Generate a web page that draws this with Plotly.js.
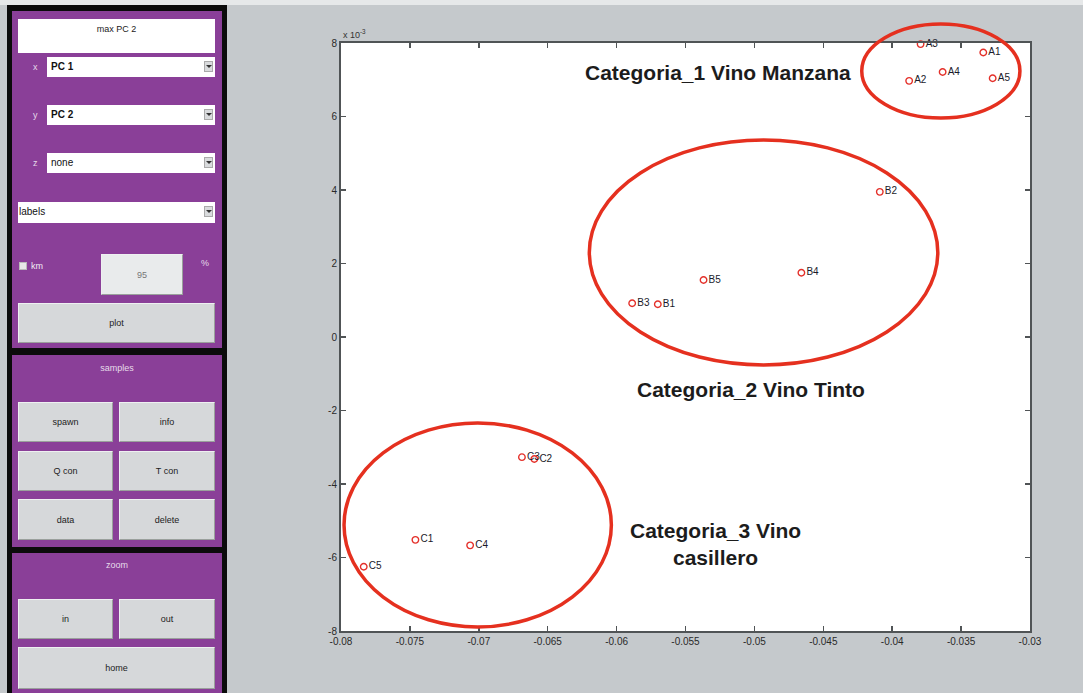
<!DOCTYPE html>
<html>
<head>
<meta charset="utf-8">
<script src="https://cdn.plot.ly/plotly-3.0.1.min.js"></script>
<style>
  html, body { margin: 0; padding: 0; background: #c5c9cc; }
  #wrap { position: relative; width: 1083px; height: 693px; overflow: hidden; background: #c5c9cc; }
  #chart { position: absolute; left: 0; top: 0; width: 1083px; height: 693px; }
  #topstrip { position: absolute; left: 0; top: 0; width: 1083px; height: 5px; background: #e6e8e9; }
  #panel { position: absolute; left: 0; top: 0; width: 230px; height: 693px; font-family: "Liberation Sans", Arial, sans-serif; }
  .blk { position: absolute; background: #0b0b0b; }
  .pur { position: absolute; background: #8a3f98; }
  .box { position: absolute; background: #ffffff; font-size: 9px; color: #222; box-sizing: border-box; }
  .btn { position: absolute; background: #d6d8da; border: 1px solid #eef0f1; border-bottom-color: #9aa09c; border-right-color: #9aa09c; box-sizing: border-box; font-size: 9px; color: #222; display: flex; align-items: center; justify-content: center; }
  .lbl { position: absolute; font-size: 9px; color: #e6dcea; }
  .dd  { position: absolute; background: #fff; box-sizing: border-box; font-size: 10px; color: #111; padding-left: 4px; line-height: 19px; font-weight: bold; }
  .arr { position: absolute; right: 2px; top: 4px; width: 9px; height: 11px; background: #d9dbdd; border: 1px solid #aaa; box-sizing: border-box; }
  .arr:after { content: ""; position: absolute; left: 1px; top: 3px; border-left: 3px solid transparent; border-right: 3px solid transparent; border-top: 3px solid #333; }
</style>
</head>
<body>
<div id="wrap">
  <div id="chart"></div>
  <div id="topstrip"></div>
  <div id="panel">
    <div class="blk" style="left:7px;top:5px;width:220px;height:688px"></div>

    <!-- controls panel -->
    <div class="pur" style="left:12px;top:11px;width:210px;height:337px"></div>
    <div class="box" style="left:18px;top:19px;width:197px;height:34px;text-align:center;padding-top:5px">max PC 2</div>
    <div class="lbl" style="left:33px;top:62px">x</div>
    <div class="dd" style="left:47px;top:57px;width:168px;height:20px">PC 1<div class="arr"></div></div>
    <div class="lbl" style="left:33px;top:110px">y</div>
    <div class="dd" style="left:47px;top:105px;width:168px;height:20px">PC 2<div class="arr"></div></div>
    <div class="lbl" style="left:33px;top:158px">z</div>
    <div class="dd" style="left:47px;top:153px;width:168px;height:20px;font-weight:normal">none<div class="arr"></div></div>
    <div class="dd" style="left:18px;top:202px;width:197px;height:21px;padding-left:1px;font-weight:normal">labels<div class="arr"></div></div>
    <div style="position:absolute;left:19px;top:262px;width:8px;height:8px;background:#e8e8e8;border:1px solid #bbb;box-sizing:border-box"></div>
    <div class="lbl" style="left:31px;top:261px;color:#f2eef4">km</div>
    <div class="btn" style="left:101px;top:254px;width:82px;height:41px;background:#e9ebec;color:#777">95</div>
    <div class="lbl" style="left:201px;top:258px">%</div>
    <div class="btn" style="left:18px;top:303px;width:197px;height:40px">plot</div>

    <!-- samples panel -->
    <div class="pur" style="left:12px;top:355px;width:210px;height:192px"></div>
    <div class="lbl" style="left:12px;width:210px;text-align:center;top:363px">samples</div>
    <div class="btn" style="left:18px;top:402px;width:95px;height:40px">spawn</div>
    <div class="btn" style="left:119px;top:402px;width:96px;height:40px">info</div>
    <div class="btn" style="left:18px;top:451px;width:95px;height:40px">Q con</div>
    <div class="btn" style="left:119px;top:451px;width:96px;height:40px">T con</div>
    <div class="btn" style="left:18px;top:499px;width:95px;height:41px">data</div>
    <div class="btn" style="left:119px;top:499px;width:96px;height:41px">delete</div>

    <!-- zoom panel -->
    <div class="pur" style="left:12px;top:553px;width:210px;height:140px"></div>
    <div class="lbl" style="left:12px;width:210px;text-align:center;top:560px">zoom</div>
    <div class="btn" style="left:18px;top:599px;width:95px;height:40px">in</div>
    <div class="btn" style="left:119px;top:599px;width:96px;height:40px">out</div>
    <div class="btn" style="left:18px;top:647px;width:197px;height:42px">home</div>
  </div>
</div>
<script>
// PCA scores: PC 1 on x, PC 2 (in units of 1e-3) on y
const sampleLabels = ['A1','A2','A3','A4','A5','B1','B2','B3','B4','B5','C1','C2','C3','C4','C5'];
const pc1 = [-0.03339, -0.03877, -0.03794, -0.03634, -0.03271,
             -0.05701, -0.04090, -0.05887, -0.04659, -0.05369,
             -0.07460, -0.06597, -0.06687, -0.07063, -0.07835];
const pc2_e3 = [7.74, 6.97, 7.97, 7.21, 7.04,
                0.89, 3.95, 0.92, 1.75, 1.55,
                -5.52, -3.32, -3.27, -5.67, -6.25];

// axis ticks
const xTickVals = [-0.08, -0.075, -0.07, -0.065, -0.06, -0.055, -0.05, -0.045, -0.04, -0.035, -0.03];
const xTickText = ['-0.08', '-0.075', '-0.07', '-0.065', '-0.06', '-0.055', '-0.05', '-0.045', '-0.04', '-0.035', '-0.03'];
const yTickVals = [-8, -6, -4, -2, 0, 2, 4, 6, 8];
const yTickText = ['-8', '-6', '-4', '-2', '0', '2', '4', '6', '8'];

// hand-drawn group outlines, in data units: [x0, x1, y0, y1]
const groupNames = ['Categoria_1 Vino Manzana', 'Categoria_2 Vino Tinto', 'Categoria_3 Vino<br>casillero'];
const groupOutlines = [
  [-0.04221, -0.03073, 5.96, 8.52],
  [-0.06198, -0.03669, -0.76, 5.36],
  [-0.07978, -0.06038, -7.89, -2.34]
];
const groupTitlePos = [[-0.05267, 7.21], [-0.05028, -1.44], [-0.05282, -5.63]];

const xRange = [-0.08, -0.03];
const yRange = [-8, 8];
const px = v => (v - xRange[0]) / (xRange[1] - xRange[0]);
const py = v => (v - yRange[0]) / (yRange[1] - yRange[0]);

const trace = {
  x: pc1, y: pc2_e3, text: sampleLabels,
  type: 'scatter', mode: 'markers+text',
  marker: { symbol: 'circle-open', size: 6.5, color: '#e4302a', line: { width: 1.4, color: '#e4302a' } },
  textposition: 'middle right',
  textfont: { family: 'Liberation Sans, Arial, sans-serif', size: 10, color: '#1a1a2a' },
  cliponaxis: false, hoverinfo: 'skip', showlegend: false
};

const axisCommon = {
  showgrid: false, zeroline: false, showline: true, mirror: 'ticks',
  linecolor: '#505456', linewidth: 2, ticks: 'inside', ticklen: 5, tickwidth: 1.5, tickcolor: '#505456',
  tickfont: { family: 'Liberation Sans, Arial, sans-serif', size: 10, color: '#2a2a2a' },
  fixedrange: true
};

const layout = {
  width: 1083, height: 693,
  paper_bgcolor: '#c5c9cc', plot_bgcolor: '#ffffff',
  margin: { l: 341, r: 53, t: 43, b: 62 },
  xaxis: Object.assign({}, axisCommon, { range: xRange, tickvals: xTickVals, ticktext: xTickText }),
  yaxis: Object.assign({}, axisCommon, { range: yRange, tickvals: yTickVals, ticktext: yTickText }),
  shapes: groupOutlines.map(g => ({
    type: 'circle', xref: 'paper', yref: 'paper',
    x0: px(g[0]), x1: px(g[1]), y0: py(g[2]), y1: py(g[3]),
    line: { color: '#e5301f', width: 3.5 }, layer: 'above'
  })),
  annotations: groupNames.map((t, i) => ({
    text: '<b>' + t + '</b>', x: groupTitlePos[i][0], y: groupTitlePos[i][1],
    xref: 'x', yref: 'y', showarrow: false, align: 'center',
    font: { family: 'Liberation Sans, Arial, sans-serif', size: 21, color: '#1c1c1c' }
  })).concat([{
    text: 'x 10<sup>-3</sup>', xref: 'paper', yref: 'paper', x: 0, y: 1, xanchor: 'left', yanchor: 'bottom',
    yshift: 1, showarrow: false,
    font: { family: 'Liberation Sans, Arial, sans-serif', size: 9, color: '#333' }
  }])
};

Plotly.newPlot('chart', [trace], layout, { displayModeBar: false, staticPlot: true });
</script>
</body>
</html>
